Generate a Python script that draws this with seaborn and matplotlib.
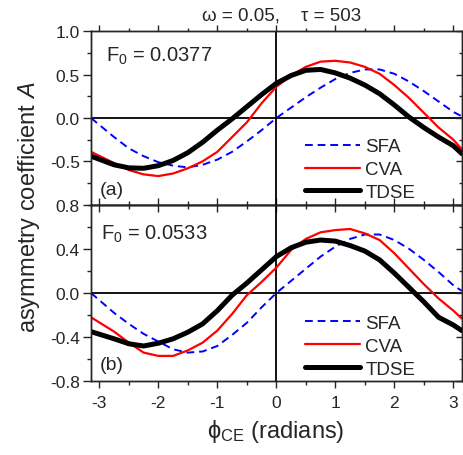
import numpy as np
import pandas as pd
import matplotlib
matplotlib.use("Agg")
import matplotlib.pyplot as plt
import seaborn as sns
from matplotlib.ticker import MultipleLocator, FixedLocator

# ---------------- data ----------------
phi = [-3.1416, -2.75, -2.5, -2.25, -2.0, -1.75, -1.5, -1.25, -1.0, -0.75, -0.5, -0.25,
       0.0, 0.25, 0.5, 0.75, 1.0, 1.25, 1.5, 1.75, 2.0, 2.25, 2.5, 2.75, 3.0, 3.1416]

# panel (a), F0 = 0.0377
sfa_a = [0.0, -0.22, -0.35, -0.44, -0.51, -0.55, -0.57, -0.54, -0.48, -0.39, -0.27, -0.14,
         0.0, 0.12, 0.24, 0.35, 0.45, 0.52, 0.56, 0.56, 0.51, 0.42, 0.31, 0.19, 0.07, 0.02]
cva_a = [-0.39, -0.52, -0.60, -0.65, -0.67, -0.64, -0.58, -0.50, -0.39, -0.22, -0.05, 0.17,
         0.36, 0.49, 0.59, 0.65, 0.66, 0.64, 0.59, 0.51, 0.38, 0.23, 0.06, -0.11, -0.25, -0.36]
tdse_a = [-0.44, -0.54, -0.575, -0.58, -0.55, -0.49, -0.40, -0.28, -0.14, -0.01, 0.13, 0.27,
          0.40, 0.49, 0.55, 0.56, 0.52, 0.46, 0.38, 0.28, 0.15, 0.01, -0.11, -0.22, -0.32, -0.41]

# panel (b), F0 = 0.0533
sfa_b = [0.0, -0.18, -0.28, -0.37, -0.44, -0.51, -0.54, -0.53, -0.48, -0.38, -0.27, -0.13,
         0.0, 0.11, 0.22, 0.33, 0.42, 0.49, 0.53, 0.53, 0.48, 0.40, 0.30, 0.19, 0.07, 0.02]
cva_b = [-0.22, -0.35, -0.45, -0.54, -0.57, -0.57, -0.52, -0.45, -0.34, -0.19, -0.02, 0.10,
         0.23, 0.39, 0.49, 0.55, 0.57, 0.58, 0.54, 0.48, 0.36, 0.22, 0.08, -0.05, -0.16, -0.23]
tdse_b = [-0.35, -0.415, -0.46, -0.48, -0.455, -0.415, -0.355, -0.28, -0.16, -0.02, 0.09, 0.21,
          0.33, 0.41, 0.46, 0.48, 0.47, 0.43, 0.38, 0.30, 0.18, 0.05, -0.08, -0.22, -0.29, -0.34]

series_names = ["SFA", "CVA", "TDSE"]
panel_fields = ["0.0377", "0.0533"]
panel_tags = ["(a)", "(b)"]
xticks = [-3, -2, -1, 0, 1, 2, 3]
yticks_a = [1.0, 0.5, 0.0, -0.5]
yticks_b = [0.8, 0.4, 0.0, -0.4, -0.8]
title_text = "ω = 0.05,    τ = 503"

# ---------------- style ----------------
sns.set_theme(style="ticks")
plt.rcParams["font.family"] = ["Liberation Sans", "DejaVu Sans"]
plt.rcParams["mathtext.fontset"] = "custom"
plt.rcParams["mathtext.rm"] = "Liberation Sans"
plt.rcParams["mathtext.it"] = "Liberation Sans:italic"
plt.rcParams["axes.unicode_minus"] = False
plt.rcParams["axes.linewidth"] = 1.0

styles = {
    "SFA": dict(color="#0000FF", lw=1.4, dashes=(4, 2.5)),
    "CVA": dict(color="#FF0000", lw=1.6, dashes=None),
    "TDSE": dict(color="#000000", lw=3.6, dashes=None),
}

fig = plt.figure(figsize=(4.64, 4.56), dpi=100)
L, R = 91 / 464, 461.7 / 464
yt, ym, yb = 1 - 32.3 / 456, 1 - 205.7 / 456, 1 - 382.3 / 456
ax_a = fig.add_axes([L, ym, R - L, yt - ym])
ax_b = fig.add_axes([L, yb, R - L, ym - yb])

panels = [
    (ax_a, [sfa_a, cva_a, tdse_a], (-1.0, 1.0), yticks_a, 0.25),
    (ax_b, [sfa_b, cva_b, tdse_b], (-0.8, 0.8), yticks_b, 0.2),
]

for i, (ax, ys, ylim, yt_list, yminor) in enumerate(panels):
    ax.axhline(0, color="black", lw=1.3, zorder=1)
    ax.axvline(0, color="black", lw=1.3, zorder=1)
    for name, y in zip(series_names, ys):
        st = styles[name]
        df = pd.DataFrame({"phi": phi, "A": y})
        sns.lineplot(data=df, x="phi", y="A", ax=ax, color=st["color"], lw=st["lw"],
                     label=name, zorder=3 if name == "TDSE" else 2)
        line = ax.get_lines()[-1]
        line.set_solid_joinstyle("round")
        if st["dashes"] is not None:
            line.set_dashes(st["dashes"])
    ax.set_xlim(-np.pi, np.pi)
    ax.set_ylim(*ylim)
    ax.set_xlabel("")
    ax.set_ylabel("")
    ax.xaxis.set_major_locator(FixedLocator(xticks))
    ax.xaxis.set_minor_locator(MultipleLocator(0.5))
    ax.yaxis.set_major_locator(FixedLocator(yt_list))
    ax.yaxis.set_minor_locator(MultipleLocator(yminor))
    ax.set_yticklabels([f"{v:.1f}" for v in yt_list])
    ax.tick_params(axis="y", which="major", direction="out", length=6, width=1,
                   labelsize=12.5, pad=2, left=True, right=False)
    ax.tick_params(axis="y", which="minor", direction="out", length=3.2, width=1,
                   left=True, right=False)
    for sp in ax.spines.values():
        sp.set_visible(True)
        sp.set_color("black")
        sp.set_linewidth(1.0)
    axr = ax.twinx()
    axr.set_ylim(*ylim)
    axr.yaxis.set_major_locator(FixedLocator(yt_list))
    axr.yaxis.set_minor_locator(MultipleLocator(yminor))
    axr.tick_params(axis="y", which="major", direction="in", length=4, width=1,
                    labelright=False)
    axr.tick_params(axis="y", which="minor", direction="in", length=2.5, width=1,
                    labelright=False)
    axr.grid(False)

    ax.legend(loc="lower right", bbox_to_anchor=(0.885, 0.0), frameon=False,
              fontsize=13.5, handlelength=2.9, handletextpad=0.3, labelspacing=0.3,
              borderpad=0.2, borderaxespad=0.0)
    ax.grid(False)

# top panel x ticks: outward on top, inward at the shared boundary
ax_a.tick_params(axis="x", which="major", top=True, bottom=False, labelbottom=False,
                 direction="out", length=4, width=1)
ax_a.tick_params(axis="x", which="minor", top=True, bottom=False, direction="out",
                 length=2.5, width=1)
ax_a_bot = ax_a.secondary_xaxis("bottom")
ax_a_bot.xaxis.set_major_locator(FixedLocator(xticks))
ax_a_bot.xaxis.set_minor_locator(MultipleLocator(0.5))
ax_a_bot.tick_params(axis="x", which="major", direction="in", length=5, width=1, labelbottom=False)
ax_a_bot.tick_params(axis="x", which="minor", direction="in", length=3, width=1, labelbottom=False)

ax_b.tick_params(axis="x", which="major", direction="out", length=5, width=1,
                 labelsize=12.5, pad=5, top=False)
ax_b.tick_params(axis="x", which="minor", direction="out", length=3, width=1, top=False)
ax_b.set_xticklabels([str(v) for v in xticks])
ax_b_top = ax_b.secondary_xaxis("top")
ax_b_top.xaxis.set_major_locator(FixedLocator(xticks))
ax_b_top.xaxis.set_minor_locator(MultipleLocator(0.5))
ax_b_top.tick_params(axis="x", which="major", direction="in", length=5, width=1, labeltop=False)
ax_b_top.tick_params(axis="x", which="minor", direction="in", length=3, width=1, labeltop=False)

# texts
ax_a.text(0.041, 0.829, "F$_{0}$ = " + panel_fields[0], transform=ax_a.transAxes,
          fontsize=14.5, va="baseline", ha="left")
ax_b.text(0.027, 0.806, "F$_{0}$ = " + panel_fields[1], transform=ax_b.transAxes,
          fontsize=14.5, va="baseline", ha="left")
ax_a.text(0.023, 0.063, panel_tags[0], transform=ax_a.transAxes, fontsize=14,
          va="baseline", ha="left")
ax_b.text(0.023, 0.07, panel_tags[1], transform=ax_b.transAxes, fontsize=14,
          va="baseline", ha="left")

fig.text(0.607, 1 - 20.5 / 456, title_text, fontsize=13.5, ha="center", va="baseline")
fig.text(0.062, 1 - 207 / 456, "asymmetry coefficient $\\it{A}$", rotation=90,
         fontsize=17, ha="center", va="center")
fig.text(0.595, 1 - 432 / 456, "ϕ$_{\\rm CE}$ (radians)", fontsize=17,
         ha="center", va="center")

fig.savefig("out.png", dpi=100)
